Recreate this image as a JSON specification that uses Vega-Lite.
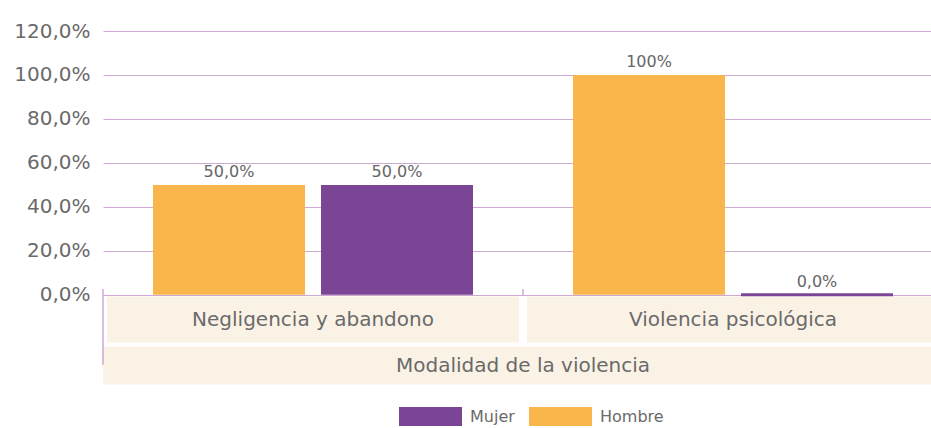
{
  "$schema": "https://vega.github.io/schema/vega-lite/v6.json",
  "width": 828,
  "height": 354,
  "autosize": {"type": "none"},
  "padding": {"left": 103, "top": 31, "right": 0, "bottom": 43},
  "background": "white",
  "config": {
    "view": {"stroke": null},
    "font": "DejaVu Sans",
    "axisY": {"gridColor": "#CDA8D2", "gridWidth": 1, "gridOpacity": 1}
  },
  "datasets": {
    "barras": [
      {"modalidad": "Negligencia y abandono", "sexo": "Hombre", "valor": 50, "etiqueta": "50,0%"},
      {"modalidad": "Negligencia y abandono", "sexo": "Mujer", "valor": 50, "etiqueta": "50,0%"},
      {"modalidad": "Violencia psicológica", "sexo": "Hombre", "valor": 100, "etiqueta": "100%"},
      {"modalidad": "Violencia psicológica", "sexo": "Mujer", "valor": 0, "etiqueta": "0,0%"}
    ],
    "categorias": [
      {"modalidad": "Negligencia y abandono"},
      {"modalidad": "Violencia psicológica"}
    ]
  },
  "layer": [
    {
      "data": {"name": "categorias"},
      "mark": {"type": "bar", "color": "#FBF2E6", "width": {"band": 0.981}},
      "encoding": {
        "x": {"field": "modalidad", "type": "nominal", "axis": null,
              "scale": {"type": "band", "domain": ["Negligencia y abandono", "Violencia psicológica"], "range": [0, 840], "paddingInner": 0, "paddingOuter": 0}},
        "y": {"datum": -0.8, "type": "quantitative",
              "scale": {"type": "linear", "domain": [-41, 120], "nice": false, "zero": false},
              "axis": {"values": [0, 20, 40, 60, 80, 100, 120], "labelExpr": "replace(format(datum.value, '.1f'), '.', ',') + '%'", "grid": true, "gridColor": "#CDA8D2", "gridWidth": 1, "domain": false, "ticks": false, "labelPadding": 13, "labelFontSize": 20, "labelColor": "#6a6a6a", "title": null}},
        "y2": {"datum": -21.7}
      }
    },
    {
      "data": {"name": "categorias"},
      "mark": {"type": "bar", "color": "#FBF2E6", "width": {"band": 1}},
      "encoding": {
        "x": {"field": "modalidad", "type": "nominal"},
        "y": {"datum": -23.5, "type": "quantitative"},
        "y2": {"datum": -40.8}
      }
    },
    {
      "data": {"name": "barras"},
      "mark": {"type": "bar"},
      "encoding": {
        "x": {"field": "modalidad", "type": "nominal"},
        "xOffset": {"field": "sexo", "type": "nominal", "scale": {"domain": ["Hombre", "Mujer"], "paddingInner": 0.0952, "paddingOuter": 0.2976}},
        "y": {"field": "valor", "type": "quantitative"},
        "y2": {"datum": 0},
        "color": {"field": "sexo", "type": "nominal",
                  "scale": {"domain": ["Mujer", "Hombre"], "range": ["#7A4595", "#F8B64C"]},
                  "legend": {"orient": "none", "legendX": 296, "legendY": 354, "direction": "horizontal", "title": null,
                             "symbolType": "M-1,-0.3L1,-0.3L1,0.3L-1,0.3Z", "symbolSize": 3969, "symbolStrokeWidth": 0, "symbolOpacity": 1,
                             "labelFontSize": 16, "labelColor": "#6a6a6a", "labelOffset": 8, "columnPadding": 14, "padding": 0}},
        "stroke": {"condition": {"test": "datum.valor == 0", "value": "#7A4595"}, "value": null},
        "strokeWidth": {"condition": {"test": "datum.valor == 0", "value": 3}, "value": 0}
      }
    },
    {
      "data": {"name": "barras"},
      "mark": {"type": "text", "baseline": "bottom", "dy": -5, "fontSize": 16, "color": "#666666"},
      "encoding": {
        "x": {"field": "modalidad", "type": "nominal"},
        "xOffset": {"field": "sexo", "type": "nominal"},
        "y": {"field": "valor", "type": "quantitative"},
        "text": {"field": "etiqueta"}
      }
    },
    {
      "data": {"name": "categorias"},
      "mark": {"type": "text", "baseline": "middle", "fontSize": 20, "color": "#6a6a6a"},
      "encoding": {
        "x": {"field": "modalidad", "type": "nominal"},
        "y": {"datum": -11.4, "type": "quantitative"},
        "text": {"field": "modalidad"}
      }
    },
    {
      "data": {"values": [{"titulo": "Modalidad de la violencia"}]},
      "mark": {"type": "text", "baseline": "middle", "fontSize": 20, "color": "#6a6a6a"},
      "encoding": {
        "x": {"datum": "Violencia psicológica", "bandPosition": 0},
        "y": {"datum": -32.3, "type": "quantitative"},
        "text": {"field": "titulo"}
      }
    },
    {
      "data": {"values": [{"t": "a"}]},
      "mark": {"type": "rule", "color": "#CDA8D2", "strokeWidth": 1.5},
      "encoding": {
        "x": {"datum": "Negligencia y abandono", "bandPosition": 0},
        "y": {"datum": 2.7, "type": "quantitative"},
        "y2": {"datum": -31.8}
      }
    },
    {
      "data": {"values": [{"t": "b"}]},
      "mark": {"type": "rule", "color": "#CDA8D2", "strokeWidth": 1.5},
      "encoding": {
        "x": {"datum": "Violencia psicológica", "bandPosition": 0},
        "y": {"datum": 2.7, "type": "quantitative"},
        "y2": {"datum": -0.5}
      }
    }
  ]
}
